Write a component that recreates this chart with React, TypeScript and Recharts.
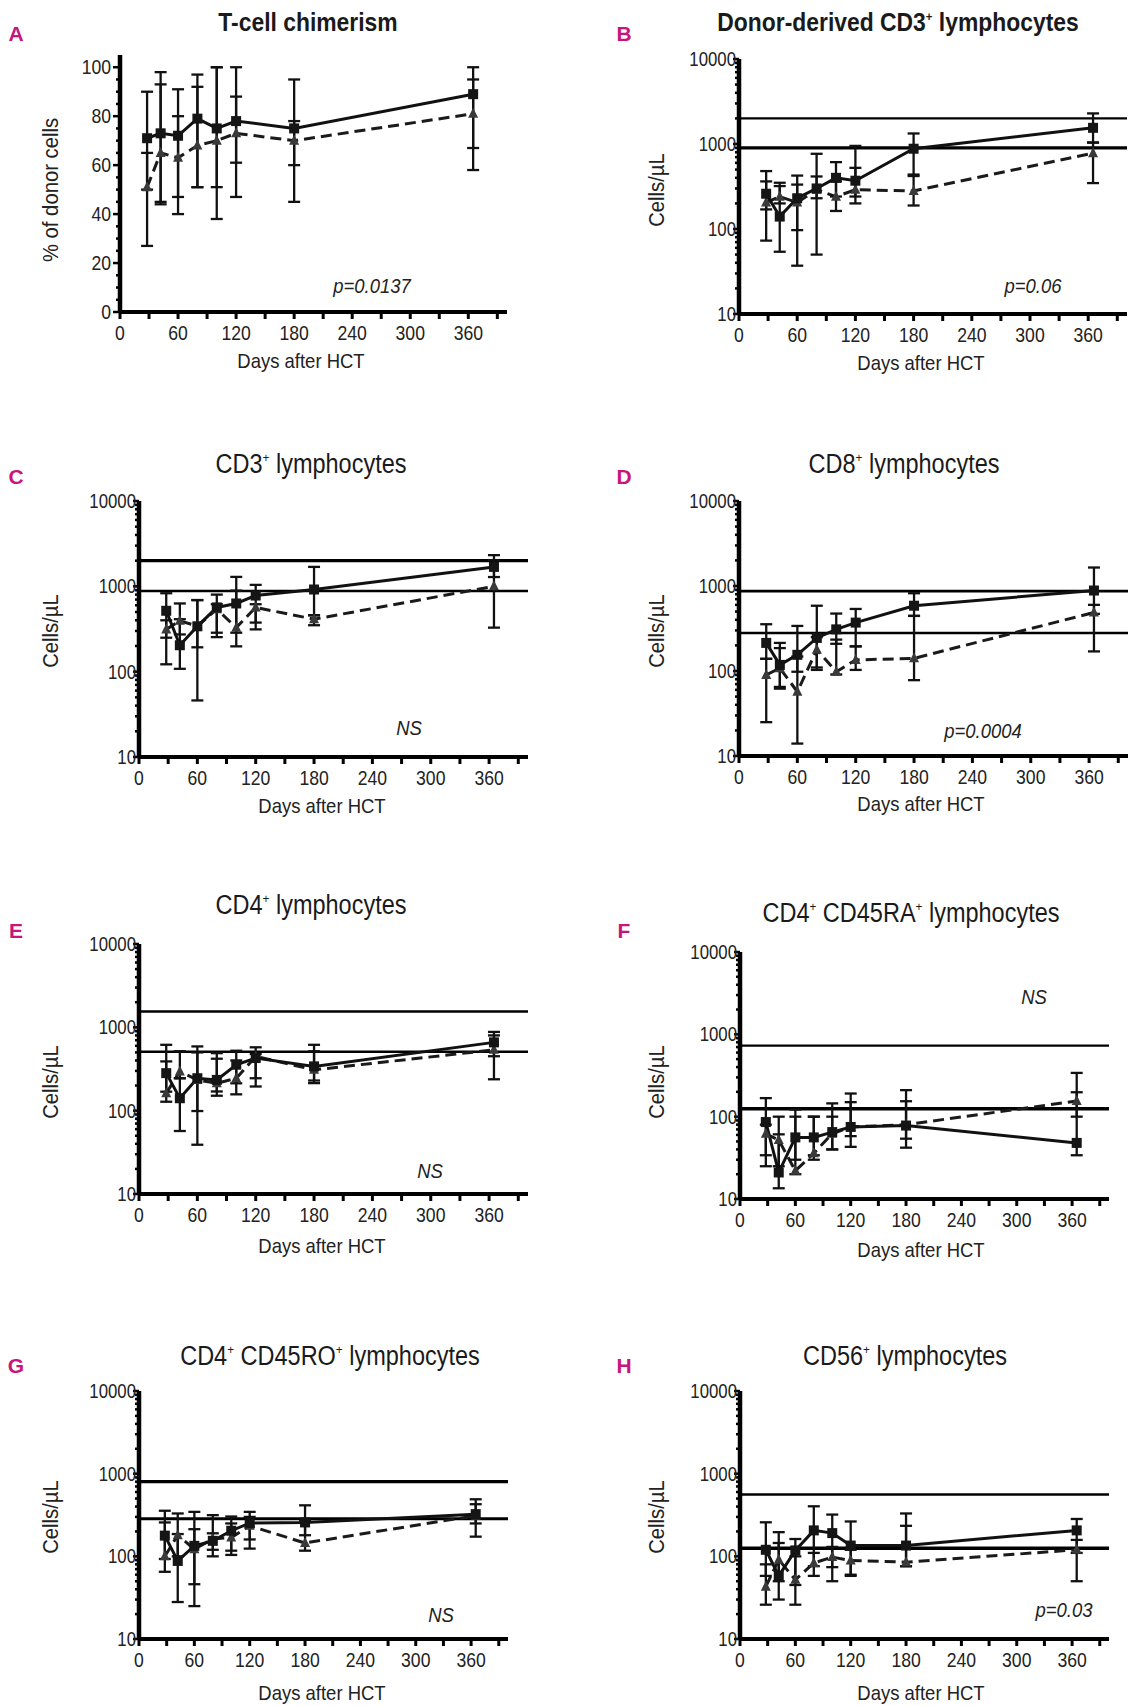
import React from 'react';
import { ComposedChart, Line, XAxis, YAxis, ErrorBar, ReferenceLine } from 'recharts';

const FONT = "'Liberation Sans', Arial, sans-serif";
const NARROW = 0.88; // horizontal squeeze to mimic a condensed face
const MAGENTA = '#c8157c';

// sampling days after HCT, shared by all panels
const days = [28, 42, 60, 80, 100, 120, 180, 365];
const dayTicks = [0, 30, 60, 90, 120, 150, 180, 210, 240, 270, 300, 330, 360, 390];
const pctTicks = [0, 5, 10, 15, 20, 25, 30, 35, 40, 45, 50, 55, 60, 65, 70, 75, 80, 85, 90, 95, 100];
const logTicks = [
  10, 20, 30, 40, 50, 60, 70, 80, 90,
  100, 200, 300, 400, 500, 600, 700, 800, 900,
  1000, 2000, 3000, 4000, 5000, 6000, 7000, 8000, 9000, 10000,
];

// [mean, low, high] per day; "solid" = squares, "dashed" = triangles
const aSolid = [[71, 50, 90], [73, 45, 98], [72, 47, 91], [79, 51, 97], [75, 51, 100], [78, 61, 100], [75, 60, 95], [89, 67, 100]];
const aDashed = [[51, 27, 65], [65, 44, 93], [63, 40, 80], [68, 51, 92], [70, 38, 100], [73, 47, 88], [70, 45, 78], [81, 58, 95]];

const bSolid = [[260, 170, 480], [140, 54, 350], [230, 97, 425], [300, 230, 767], [400, 241, 612], [370, 241, 950], [880, 420, 1330], [1550, 1040, 2290]];
const bDashed = [[205, 73, 363], [240, 200, 320], [205, 37, 333], [290, 50, 415], [240, 163, 363], [290, 200, 524], [280, 189, 437], [780, 347, 1040]];
const bRef = [2000, 900];

const cSolid = [[517, 250, 830], [204, 108, 630], [340, 46, 690], [566, 286, 800], [630, 286, 1290], [780, 376, 1040], [918, 458, 1690], [1690, 1285, 2320]];
const cDashed = [[313, 122, 400], [394, 273, 412], [343, 193, 690], [540, 254, 617], [328, 198, 891], [566, 313, 617], [412, 350, 458], [1000, 328, 2030]];
const cRef = [2000, 880];

const dSolid = [[214, 139, 355], [118, 65, 186], [155, 98, 339], [245, 103, 586], [309, 209, 474], [371, 195, 537], [586, 445, 822], [885, 470, 1650]];
const dDashed = [[90, 25, 139], [108, 62, 214], [57, 14, 148], [178, 110, 250], [98, 91, 234], [135, 103, 195], [141, 78, 445], [488, 170, 600]];
const dRef = [870, 280];

const eSolid = [[282, 169, 617], [141, 57, 245], [245, 39, 590], [234, 151, 490], [356, 213, 524], [428, 245, 576], [340, 230, 617], [660, 450, 881]];
const eDashed = [[162, 128, 390], [295, 245, 517], [234, 99, 500], [213, 170, 420], [245, 157, 400], [447, 195, 479], [309, 214, 516], [537, 238, 800]];
const eRef = [1550, 510];

const fSolid = [[86, 34, 168], [21, 13.5, 61], [56, 30, 122], [56, 34, 100], [65, 40, 145], [75, 43, 150], [78, 54, 154], [48, 34, 198]];
const fDashed = [[62, 25, 80], [52, 25, 100], [22, 20, 100], [36, 30, 100], [62, 40, 100], [75, 58, 191], [80, 42, 210], [155, 100, 340]];
const fRef = [730, 125];

const gSolid = [[178, 93, 356], [88, 28, 186], [134, 46, 345], [154, 100, 315], [204, 117, 303], [252, 160, 345], [257, 180, 414], [324, 173, 490]];
const gDashed = [[100, 65, 257], [180, 100, 330], [122, 25, 213], [162, 120, 190], [169, 104, 250], [234, 124, 300], [145, 117, 270], [310, 250, 427]];
const gRef = [800, 285];

const hSolid = [[120, 58, 258], [58, 30, 145], [118, 45, 162], [206, 76, 403], [191, 74, 320], [135, 58, 264], [135, 76, 330], [206, 110, 283]];
const hDashed = [[43, 26, 80], [91, 50, 196], [52, 26, 100], [83, 58, 110], [98, 50, 130], [89, 60, 120], [85, 76, 234], [120, 50, 158]];
const hRef = [560, 125];

function build(solid: number[][], dashed: number[][]) {
  return days.map((day, i) => ({
    day,
    s: solid[i][0],
    sErr: [solid[i][0] - solid[i][1], solid[i][2] - solid[i][0]],
    d: dashed[i][0],
    dErr: [dashed[i][0] - dashed[i][1], dashed[i][2] - dashed[i][0]],
  }));
}

const sup = (t: string) => (
  <span style={{ fontSize: '0.5em', position: 'relative', top: '-0.8em' }}>{t}</span>
);

const YW = 70;
const MT = 10;
const MR = 12;
const XH = 60;

const dayTick = (props: any) => {
  const { x, y, payload } = props;
  const v = payload.value;
  const show = v % 60 === 0;
  return (
    <g>
      <line x1={x} y1={y} x2={x} y2={y + 7} stroke="#000" strokeWidth={3} />
      {show && (
        <text transform={`translate(${x},${y + 28}) scale(${NARROW},1)`} textAnchor="middle" fontSize={20} fontFamily={FONT} fill="#222">
          {v}
        </text>
      )}
    </g>
  );
};

const pctTick = (props: any) => {
  const { x, y, payload } = props;
  const v = payload.value;
  const major = v % 20 === 0;
  return (
    <g>
      <line x1={x} y1={y} x2={x - (major ? 7 : 4)} y2={y} stroke="#000" strokeWidth={2.5} />
      {major && (
        <text transform={`translate(${x - 9},${y + 7}) scale(${NARROW},1)`} textAnchor="end" fontSize={20} fontFamily={FONT} fill="#222">
          {v}
        </text>
      )}
    </g>
  );
};

const logTick = (props: any) => {
  const { x, y, payload } = props;
  const v = payload.value;
  const major = [10, 100, 1000, 10000].includes(v);
  return (
    <g>
      <line x1={x} y1={y} x2={x - (major ? 6 : 4)} y2={y} stroke="#000" strokeWidth={2.5} />
      {major && (
        <text transform={`translate(${x - 3},${y + 7}) scale(0.84,1)`} textAnchor="end" fontSize={20} fontFamily={FONT} fill="#222">
          {v}
        </text>
      )}
    </g>
  );
};

const squareDot = (p: any) => (
  <rect key={`s${p.index}`} x={p.cx - 5} y={p.cy - 5} width={10} height={10} fill="#151515" />
);
const triDot = (p: any) => (
  <path key={`t${p.index}`} d={`M${p.cx},${p.cy - 6} L${p.cx + 5},${p.cy + 4} L${p.cx - 5},${p.cy + 4} Z`} fill="#3a3a3a" />
);

interface PanelDef {
  letter: string;
  letterAt: [number, number];
  title: React.ReactNode;
  bold?: boolean;
  titleAt: [number, number];
  yLabel: string;
  yLabelAt: [number, number];
  xLabelAt: [number, number];
  note: string;
  noteAt: [number, number];
  L: number;
  T: number;
  plotW: number;
  plotH: number;
  log: boolean;
  data: ReturnType<typeof build>;
  refs: number[];
  refW: number[];
}

const panels: PanelDef[] = [
  {
    letter: 'A', letterAt: [16, 33], title: 'T-cell chimerism', bold: true, titleAt: [308, 22],
    yLabel: '% of donor cells', yLabelAt: [51, 190], xLabelAt: [301, 360], note: 'p=0.0137', noteAt: [372, 285],
    L: 120, T: 55, plotW: 387, plotH: 257, log: false, data: build(aSolid, aDashed), refs: [], refW: [],
  },
  {
    letter: 'B', letterAt: [624, 33], title: <>Donor-derived CD3{sup('+')} lymphocytes</>, bold: true, titleAt: [898, 22],
    yLabel: 'Cells/\u00b5L', yLabelAt: [657, 190], xLabelAt: [921, 362], note: 'p=0.06', noteAt: [1033, 285],
    L: 739, T: 59, plotW: 388, plotH: 255, log: true, data: build(bSolid, bDashed), refs: bRef, refW: [2.2, 3.4],
  },
  {
    letter: 'C', letterAt: [16, 476], title: <>CD3{sup('+')} lymphocytes</>, titleAt: [311, 464],
    yLabel: 'Cells/\u00b5L', yLabelAt: [51, 631], xLabelAt: [322, 805], note: 'NS', noteAt: [409, 727],
    L: 139, T: 501, plotW: 389, plotH: 256, log: true, data: build(cSolid, cDashed), refs: cRef, refW: [3.4, 2.6],
  },
  {
    letter: 'D', letterAt: [624, 476], title: <>CD8{sup('+')} lymphocytes</>, titleAt: [904, 464],
    yLabel: 'Cells/\u00b5L', yLabelAt: [657, 631], xLabelAt: [921, 803], note: 'p=0.0004', noteAt: [983, 730],
    L: 739, T: 501, plotW: 389, plotH: 255, log: true, data: build(dSolid, dDashed), refs: dRef, refW: [2.6, 2.6],
  },
  {
    letter: 'E', letterAt: [16, 930], title: <>CD4{sup('+')} lymphocytes</>, titleAt: [311, 905],
    yLabel: 'Cells/\u00b5L', yLabelAt: [51, 1082], xLabelAt: [322, 1245], note: 'NS', noteAt: [430, 1170],
    L: 139, T: 944, plotW: 389, plotH: 250, log: true, data: build(eSolid, eDashed), refs: eRef, refW: [2.6, 2.6],
  },
  {
    letter: 'F', letterAt: [624, 930], title: <>CD4{sup('+')} CD45RA{sup('+')} lymphocytes</>, titleAt: [911, 913],
    yLabel: 'Cells/\u00b5L', yLabelAt: [657, 1082], xLabelAt: [921, 1249], note: 'NS', noteAt: [1034, 996],
    L: 740, T: 952, plotW: 369, plotH: 247, log: true, data: build(fSolid, fDashed), refs: fRef, refW: [2.4, 3.4],
  },
  {
    letter: 'G', letterAt: [16, 1365], title: <>CD4{sup('+')} CD45RO{sup('+')} lymphocytes</>, titleAt: [330, 1356],
    yLabel: 'Cells/\u00b5L', yLabelAt: [51, 1517], xLabelAt: [322, 1692], note: 'NS', noteAt: [441, 1614],
    L: 139, T: 1391, plotW: 369, plotH: 248, log: true, data: build(gSolid, gDashed), refs: gRef, refW: [3.2, 3.2],
  },
  {
    letter: 'H', letterAt: [624, 1365], title: <>CD56{sup('+')} lymphocytes</>, titleAt: [905, 1356],
    yLabel: 'Cells/\u00b5L', yLabelAt: [657, 1517], xLabelAt: [921, 1692], note: 'p=0.03', noteAt: [1064, 1609],
    L: 740, T: 1391, plotW: 369, plotH: 248, log: true, data: build(hSolid, hDashed), refs: hRef, refW: [2.6, 3.6],
  },
];

const centered = (x: number, y: number, extra = ''): React.CSSProperties => ({
  position: 'absolute',
  left: x,
  top: y,
  transform: `translate(-50%, -50%) ${extra}`,
  whiteSpace: 'nowrap',
  lineHeight: 1,
});

function Panel({ p }: { p: PanelDef }) {
  const w = YW + p.plotW + MR;
  const h = MT + p.plotH + XH;
  return (
    <>
      <div style={{ ...centered(p.letterAt[0], p.letterAt[1]), color: MAGENTA, fontFamily: FONT, fontWeight: 700, fontSize: 21 }}>
        {p.letter}
      </div>
      <div style={{ ...centered(p.titleAt[0], p.titleAt[1], `scaleX(${p.bold ? 0.88 : 0.87})`), fontFamily: FONT, fontWeight: p.bold ? 700 : 400, fontSize: p.bold ? 26 : 27, color: '#1a1a1a' }}>
        {p.title}
      </div>
      <div style={{ ...centered(p.yLabelAt[0], p.yLabelAt[1], `rotate(-90deg) scaleX(0.92)`), fontFamily: FONT, fontSize: 22, color: '#222' }}>
        {p.yLabel}
      </div>
      <div style={{ ...centered(p.xLabelAt[0], p.xLabelAt[1], `scaleX(${NARROW})`), fontFamily: FONT, fontSize: 21, color: '#222' }}>
        Days after HCT
      </div>
      <div style={{ ...centered(p.noteAt[0], p.noteAt[1], `scaleX(${NARROW})`), fontFamily: FONT, fontStyle: 'italic', fontSize: 21, color: '#222' }}>
        {p.note}
      </div>
      <div style={{ position: 'absolute', left: p.L - YW, top: p.T - MT }}>
        <ComposedChart width={w} height={h} data={p.data} margin={{ top: MT, right: MR, left: 0, bottom: 0 }}>
          <XAxis
            type="number"
            dataKey="day"
            domain={[0, 400]}
            ticks={dayTicks}
            interval={0}
            allowDataOverflow
            height={XH}
            tickSize={0}
            tickMargin={0}
            tickLine={false}
            tick={dayTick}
            axisLine={{ stroke: '#000', strokeWidth: 4 }}
          />
          <YAxis
            type="number"
            scale={p.log ? 'log' : 'linear'}
            domain={p.log ? [10, 10000] : [0, 105]}
            ticks={p.log ? logTicks : pctTicks}
            interval={0}
            allowDataOverflow
            width={YW}
            tickSize={0}
            tickMargin={0}
            tickLine={false}
            tick={p.log ? logTick : pctTick}
            axisLine={{ stroke: '#000', strokeWidth: 4.5 }}
          />
          {p.refs.map((v, i) => (
            <ReferenceLine key={i} y={v} stroke="#000" strokeWidth={p.refW[i]} />
          ))}
          <Line
            type="linear"
            dataKey="d"
            stroke="#1a1a1a"
            strokeWidth={3}
            strokeDasharray="11 6"
            dot={triDot}
            activeDot={false}
            isAnimationActive={false}
          >
            <ErrorBar dataKey="dErr" direction="y" width={6} stroke="#111" strokeWidth={2.3} isAnimationActive={false} />
          </Line>
          <Line
            type="linear"
            dataKey="s"
            stroke="#111"
            strokeWidth={3}
            dot={squareDot}
            activeDot={false}
            isAnimationActive={false}
          >
            <ErrorBar dataKey="sErr" direction="y" width={6} stroke="#111" strokeWidth={2.3} isAnimationActive={false} />
          </Line>
        </ComposedChart>
      </div>
    </>
  );
}

export default function App() {
  return (
    <div style={{ position: 'absolute', left: 0, top: 0, width: 1129, height: 1706, background: '#fff', overflow: 'hidden' }}>
      {panels.map((p) => (
        <Panel key={p.letter} p={p} />
      ))}
    </div>
  );
}
